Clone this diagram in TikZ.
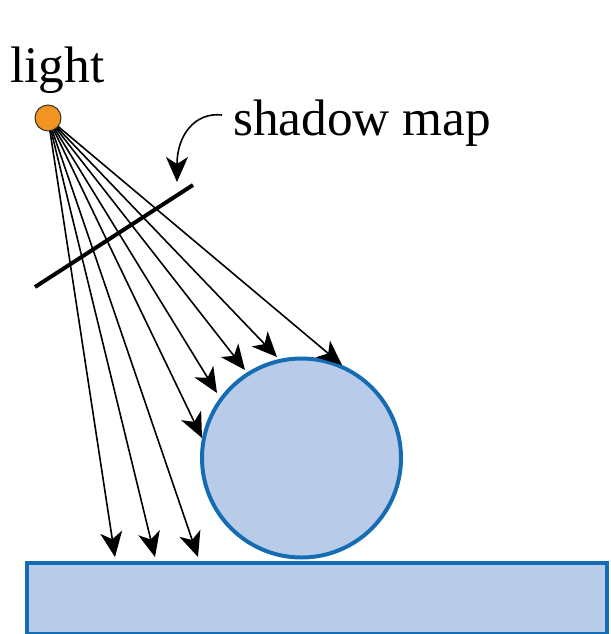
\documentclass[tikz,border=0pt]{standalone}
\usepackage{fontspec}
\setmainfont{Liberation Serif}
\usetikzlibrary{arrows.meta}
\definecolor{objfill}{HTML}{B8CCE9}
\definecolor{objline}{HTML}{166CB2}
\definecolor{lightorange}{HTML}{F39320}
\begin{document}
\begin{tikzpicture}[x=1bp,y=-1bp,
  tip/.style={-{Stealth[length=25bp 0 0,width=22bp 0 0,inset=7bp 0]}},
  ray/.style={line width=1.6pt,tip},
  objshape/.style={draw=objline,fill=objfill,line width=4pt},
  lbl/.style={font=\fontsize{51.5}{60}\selectfont,inner sep=0pt}]
\useasboundingbox (0,0) rectangle (611,634);
% ground
\node[objshape,rectangle,minimum width=580bp,minimum height=71bp,anchor=north west,inner sep=0pt] (ground) at (25,561) {};
% sphere
\node[objshape,circle,minimum size=199bp,inner sep=0pt] (sphere) at (301.5,458) {};
% light position
\coordinate (Lc) at (48,118);
% target points
\coordinate (t1) at (115,557);
\coordinate (t2) at (155,557);
\coordinate (t3) at (198,557);
\coordinate (t4) at (202,438);
\coordinate (t5) at (217,393);
\coordinate (t6) at (245,370);
\coordinate (t7) at (277,357);
\coordinate (t8) at (342,365);
\foreach \t in {t1,t2,t3,t4,t5,t6,t7,t8}
  \draw[ray] (Lc) -- (\t);
% shadow map plane
\coordinate (sm1) at (35,287);
\coordinate (sm2) at (193,185);
\draw[line width=4pt] (sm1) -- (sm2);
% light source
\node[circle,draw=black!80,fill=lightorange,line width=1pt,minimum size=26bp,inner sep=0pt] (light) at (Lc) {};
% labels
\node[lbl,anchor=base] (lighttext) at (57.5,83) {light};
\node[lbl,anchor=base west] (smtext) at (233,136) {shadow map};
\coordinate (cs) at (222,115);
\coordinate (ce) at (177,182);
\draw[line width=1.6pt,tip] (cs) .. controls (195,112) and (177,135) .. (ce);
\end{tikzpicture}
\end{document}
